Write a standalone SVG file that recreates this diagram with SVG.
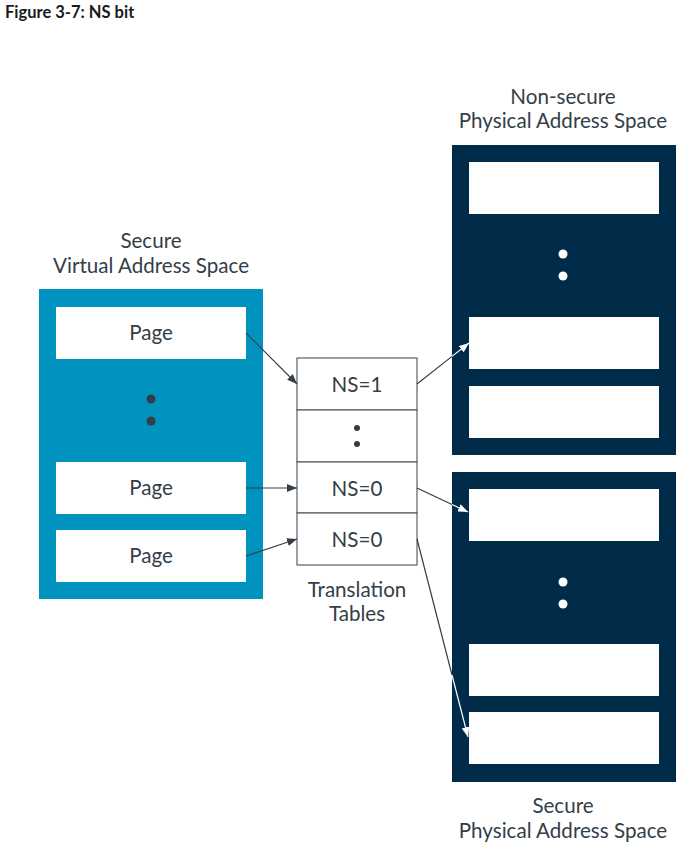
<svg xmlns="http://www.w3.org/2000/svg" width="686" height="852" viewBox="0 0 686 852">
<defs>
<style>
.t{font-family:Lato,"Liberation Sans",sans-serif;font-size:20.6px;fill:#333e48;text-anchor:middle}
.page{fill:#ffffff}
.tt{fill:#ffffff;stroke:#5a5f66;stroke-width:1.2}
.c{stroke:#333e48;stroke-width:1.2;fill:none}
.cw{stroke:#ffffff;stroke-width:1.2;fill:none}
</style>
<marker id="ad" viewBox="0 0 10 8" refX="10" refY="4" markerWidth="10" markerHeight="8" markerUnits="userSpaceOnUse" orient="auto"><path d="M0,0L10,4L0,8z" fill="#333e48"/></marker>
<marker id="aw" viewBox="0 0 10 8" refX="10" refY="4" markerWidth="10" markerHeight="8" markerUnits="userSpaceOnUse" orient="auto"><path d="M0,0L10,4L0,8z" fill="#ffffff"/></marker>
</defs>
<rect width="686" height="852" fill="#ffffff"/>
<text x="5" y="18" style="font-family:Lato,'Liberation Sans',sans-serif;font-size:16.5px;font-weight:bold;fill:#1a1a1a">Figure 3-7: NS bit</text>

<g id="secure-virtual">
<text class="t" x="151" y="248">Secure</text>
<text class="t" x="151" y="273">Virtual Address Space</text>
<rect x="39" y="289" width="224" height="310" fill="#0093c0"/>
<rect class="page" x="56" y="307" width="190" height="52"/>
<text class="t" x="151" y="340">Page</text>
<circle cx="151" cy="399" r="4.5" fill="#333e48"/>
<circle cx="151" cy="421" r="4.5" fill="#333e48"/>
<rect class="page" x="56" y="462" width="190" height="52"/>
<text class="t" x="151" y="495">Page</text>
<rect class="page" x="56" y="530" width="190" height="52"/>
<text class="t" x="151" y="563">Page</text>
</g>

<g id="translation-tables">
<rect class="tt" x="297" y="358" width="120" height="52"/>
<text class="t" x="357" y="392">NS=1</text>
<rect class="tt" x="297" y="410" width="120" height="52"/>
<circle cx="357" cy="428" r="3" fill="#333e48"/>
<circle cx="357" cy="444" r="3" fill="#333e48"/>
<rect class="tt" x="297" y="462" width="120" height="51"/>
<text class="t" x="357" y="496">NS=0</text>
<rect class="tt" x="297" y="513" width="120" height="52"/>
<text class="t" x="357" y="547">NS=0</text>
<text class="t" x="357" y="597">Translation</text>
<text class="t" x="357" y="621">Tables</text>
</g>

<g id="nonsecure-physical">
<text class="t" x="563" y="104">Non-secure</text>
<text class="t" x="563" y="128">Physical Address Space</text>
<rect x="452" y="145" width="224" height="310" fill="#002b49"/>
<rect class="page" x="469" y="162" width="190" height="52"/>
<circle cx="563" cy="254" r="4.5" fill="#ffffff"/>
<circle cx="563" cy="276" r="4.5" fill="#ffffff"/>
<rect class="page" x="469" y="317" width="190" height="52"/>
<rect class="page" x="469" y="386" width="190" height="52"/>
</g>

<g id="secure-physical">
<rect x="452" y="472" width="224" height="310" fill="#002b49"/>
<rect class="page" x="469" y="489" width="190" height="52"/>
<circle cx="563" cy="582" r="4.5" fill="#ffffff"/>
<circle cx="563" cy="604" r="4.5" fill="#ffffff"/>
<rect class="page" x="469" y="644" width="190" height="52"/>
<rect class="page" x="469" y="712" width="190" height="52"/>
<text class="t" x="563" y="813">Secure</text>
<text class="t" x="563" y="838">Physical Address Space</text>
</g>

<g id="connectors">
<line class="c" x1="246" y1="333" x2="297" y2="384" marker-end="url(#ad)"/>
<line class="c" x1="246" y1="488" x2="297" y2="488" marker-end="url(#ad)"/>
<line class="c" x1="246" y1="556" x2="297" y2="539" marker-end="url(#ad)"/>
<line class="c" x1="417" y1="384" x2="452" y2="356.4"/>
<line class="cw" x1="452" y1="356.4" x2="469" y2="343" marker-end="url(#aw)"/>
<line class="c" x1="417" y1="488" x2="452" y2="504.5"/>
<line class="cw" x1="452" y1="504.5" x2="468" y2="512" marker-end="url(#aw)"/>
<line class="c" x1="417" y1="539" x2="452" y2="675"/>
<line class="cw" x1="452" y1="675" x2="468" y2="737" marker-end="url(#aw)"/>
</g>
</svg>
